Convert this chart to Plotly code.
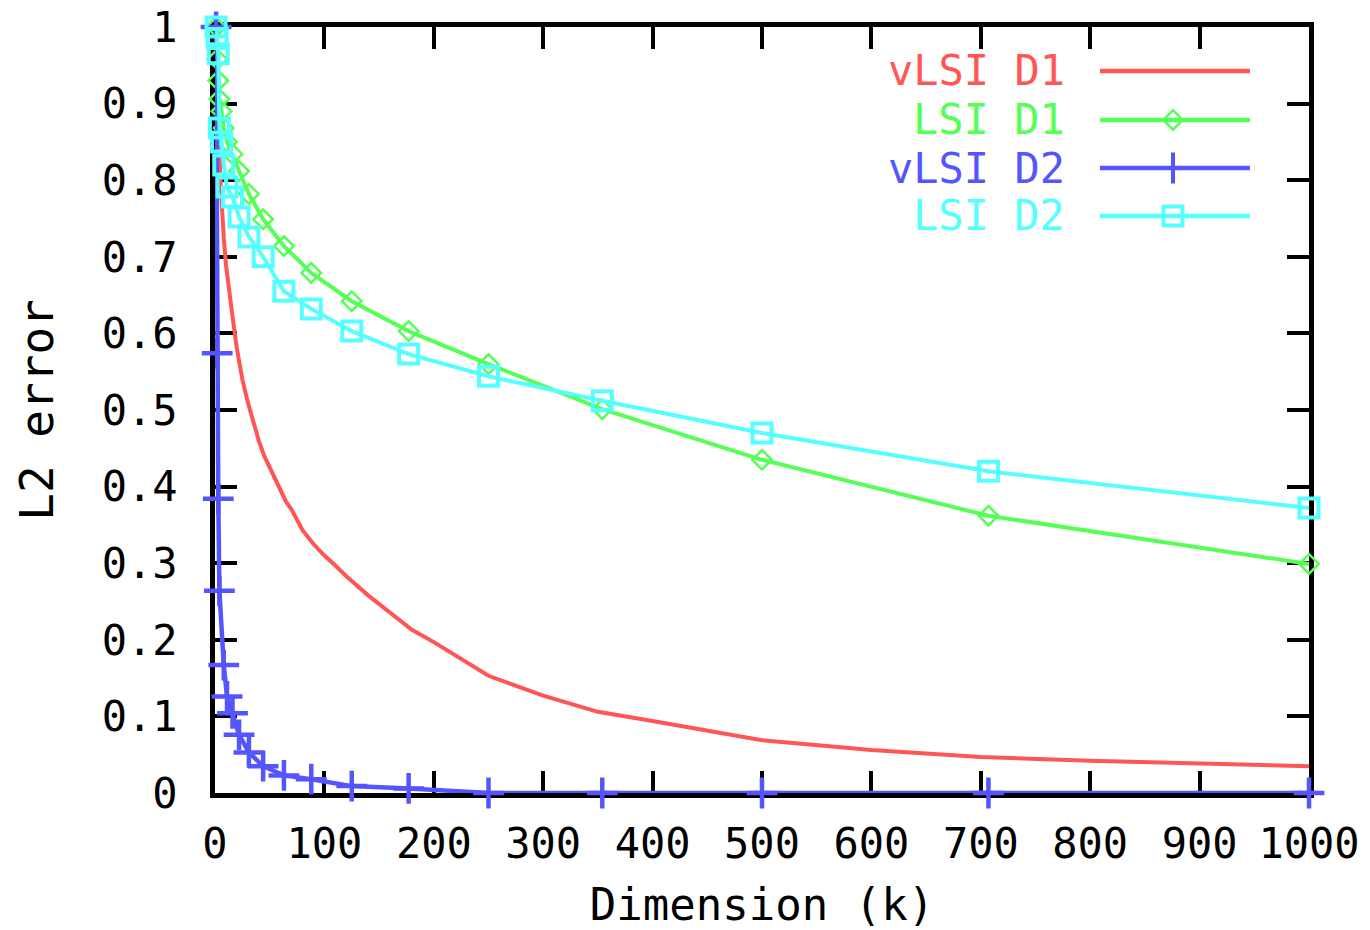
import plotly.graph_objects as go

# ---- data ----
k_grid = [1, 2, 3, 4, 6, 8, 11, 16, 22, 31, 44, 63, 88, 125, 177, 250, 354, 500, 707, 1000]

vlsi_d1_k = [1, 2, 3, 4, 5, 6, 8, 10, 13, 16, 20, 25, 30, 35, 40, 45, 50, 56, 61, 65, 70,
             80, 90, 100, 110, 120, 140, 160, 180, 200, 250, 300, 350, 400, 450, 500,
             600, 700, 800, 900, 1000]
vlsi_d1 = [1.0, 0.93, 0.88, 0.84, 0.80, 0.77, 0.725, 0.69, 0.66, 0.622, 0.58, 0.54, 0.51,
           0.485, 0.46, 0.44, 0.425, 0.405, 0.39, 0.38, 0.37, 0.343, 0.325, 0.31, 0.297,
           0.283, 0.258, 0.235, 0.213, 0.197, 0.153, 0.127, 0.106, 0.094, 0.082, 0.069,
           0.056, 0.047, 0.042, 0.038, 0.035]

lsi_d1 = [1.0, 0.958, 0.93, 0.906, 0.89, 0.868, 0.85, 0.834, 0.812, 0.782, 0.749, 0.714,
          0.679, 0.642, 0.603, 0.56, 0.501, 0.435, 0.362, 0.299]

vlsi_d2_k = [1, 2, 3, 4, 8, 11, 16, 22, 31, 44, 63, 88, 125, 177, 250, 354, 500, 707, 1000]
vlsi_d2 = [1.0, 0.574, 0.384, 0.264, 0.167, 0.126, 0.104, 0.076, 0.053, 0.035, 0.023,
           0.018, 0.009, 0.006, 0.0, 0.0, 0.0, 0.0, 0.0]

lsi_d2 = [1.0, 0.985, 0.965, 0.868, 0.85, 0.82, 0.791, 0.778, 0.752, 0.726, 0.70, 0.655,
          0.632, 0.603, 0.573, 0.544, 0.512, 0.47, 0.42, 0.372]

series_names = ["vLSI D1", "LSI D1", "vLSI D2", "LSI D2"]
series_colors = ["#FF5555", "#55FF55", "#5555FF", "#55FFFF"]

x_ticks = [0, 100, 200, 300, 400, 500, 600, 700, 800, 900, 1000]
x_tick_labels = ["0", "100", "200", "300", "400", "500", "600", "700", "800", "900", "1000"]
y_ticks = [0, 0.1, 0.2, 0.3, 0.4, 0.5, 0.6, 0.7, 0.8, 0.9, 1.0]
y_tick_labels = ["0", "0.1", "0.2", "0.3", "0.4", "0.5", "0.6", "0.7", "0.8", "0.9", "1"]

FONT = "DejaVu Sans Mono"
FS = 42

fig = go.Figure()

# data traces (gnuplot draw order)
fig.add_trace(go.Scatter(x=vlsi_d1_k, y=vlsi_d1, mode="lines", name=series_names[0],
                         line=dict(color=series_colors[0], width=4), cliponaxis=False))
fig.add_trace(go.Scatter(x=k_grid, y=lsi_d1, mode="lines+markers", name=series_names[1],
                         line=dict(color=series_colors[1], width=4),
                         marker=dict(symbol="diamond-open", size=15, color=series_colors[1],
                                     line=dict(width=2.5, color=series_colors[1])),
                         cliponaxis=False))
fig.add_trace(go.Scatter(x=vlsi_d2_k, y=vlsi_d2, mode="lines+markers", name=series_names[2],
                         line=dict(color=series_colors[2], width=4.5),
                         marker=dict(symbol="cross-thin-open", size=22, color=series_colors[2],
                                     line=dict(width=4.5, color=series_colors[2])),
                         cliponaxis=False))
fig.add_trace(go.Scatter(x=k_grid, y=lsi_d2, mode="lines+markers", name=series_names[3],
                         line=dict(color=series_colors[3], width=4),
                         marker=dict(symbol="square-open", size=19, color=series_colors[3],
                                     line=dict(width=4, color=series_colors[3])),
                         cliponaxis=False))

# gnuplot-style key: text right-aligned, sample line on the right
key_rows = [0.9426, 0.8786, 0.8159, 0.7533]
key_symbols = [None, "diamond-open", "cross-thin-open", "square-open"]
key_sizes = [0, 15, 22, 19]
key_line_x = [0.809, 0.946]
key_mark_x = 0.8757
for i in range(4):
    fig.add_trace(go.Scatter(x=key_line_x, y=[key_rows[i], key_rows[i]], mode="lines",
                             line=dict(color=series_colors[i], width=4.5),
                             xaxis="x2", yaxis="y2", showlegend=False, hoverinfo="skip",
                             cliponaxis=False))
    if key_symbols[i]:
        fig.add_trace(go.Scatter(x=[key_mark_x], y=[key_rows[i]], mode="markers",
                                 marker=dict(symbol=key_symbols[i], size=key_sizes[i],
                                             color=series_colors[i],
                                             line=dict(width=4 if i > 1 else 2.5,
                                                       color=series_colors[i])),
                                 xaxis="x2", yaxis="y2", showlegend=False, hoverinfo="skip",
                                 cliponaxis=False))
    fig.add_annotation(x=0.7788, y=key_rows[i], xref="x2", yref="y2", text=series_names[i],
                       showarrow=False, xanchor="right", yanchor="middle",
                       font=dict(family=FONT, size=42, color=series_colors[i]))

axis_common = dict(showline=True, linecolor="black", linewidth=5, mirror="ticks",
                   ticks="inside", ticklen=22, tickwidth=4, tickcolor="black",
                   showgrid=False, zeroline=False, layer="below traces", automargin=False,
                   ticklabeloverflow="allow",
                   tickfont=dict(family=FONT, size=FS, color="black"))

fig.update_layout(
    width=1370, height=930,
    margin=dict(l=215, r=61, t=27, b=137),
    paper_bgcolor="white", plot_bgcolor="white",
    showlegend=False,
    xaxis=dict(range=[0, 1000], tickvals=x_ticks, ticktext=x_tick_labels, tickangle=0,
               ticklabelstandoff=10,
               title=dict(text="Dimension (k)", font=dict(family=FONT, size=44, color="black"),
                          standoff=36),
               **axis_common),
    yaxis=dict(range=[0, 1], tickvals=y_ticks, ticktext=y_tick_labels,
               ticklabelstandoff=24,
               title=dict(text="L2 error", font=dict(family=FONT, size=46, color="black"),
                          standoff=35),
               **axis_common),
    xaxis2=dict(overlaying="x", range=[0, 1], visible=False),
    yaxis2=dict(overlaying="y", range=[0, 1], visible=False),
)

# remove the default 8px page margin so the figure fills the window exactly
fig.write_html("out.html", config={"displayModeBar": False},
               post_script="document.body.style.margin='0';document.body.style.overflow='hidden';")
